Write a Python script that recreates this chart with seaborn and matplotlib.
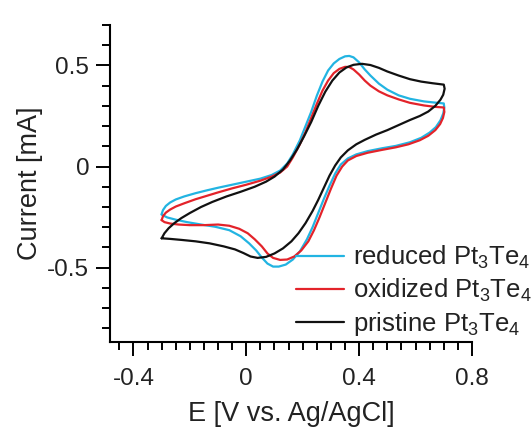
import matplotlib
matplotlib.use("Agg")
import matplotlib.pyplot as plt
import seaborn as sns
import pandas as pd
from matplotlib.ticker import MultipleLocator, FuncFormatter

# ---------------- data ----------------
series_names = ["reduced Pt$_3$Te$_4$", "oxidized Pt$_3$Te$_4$", "pristine Pt$_3$Te$_4$"]
series_colors = ["#22b4e2", "#e3232a", "#111111"]

# each loop: forward (anodic) sweep -0.3 -> 0.7 V, then reverse sweep back to -0.3 V
reduced_E = [-0.30, -0.295, -0.285, -0.27, -0.25, -0.22, -0.18, -0.14, -0.10, -0.05, 0.00, 0.05,
             0.09, 0.12, 0.145, 0.165, 0.19, 0.21, 0.23, 0.25, 0.27, 0.29, 0.31, 0.33,
             0.35, 0.365, 0.38, 0.40, 0.42, 0.44, 0.47, 0.50, 0.54, 0.58, 0.63, 0.67, 0.70,
             0.702, 0.698, 0.688, 0.672, 0.65, 0.62, 0.58, 0.53, 0.48, 0.43, 0.39, 0.36,
             0.335, 0.315, 0.295, 0.275, 0.255, 0.235, 0.215, 0.19, 0.165, 0.14, 0.115, 0.095,
             0.075, 0.055, 0.035, 0.01, -0.02, -0.06, -0.11, -0.16, -0.21, -0.25, -0.28, -0.30]
reduced_I = [-0.235, -0.215, -0.195, -0.178, -0.163, -0.148, -0.132, -0.118, -0.105, -0.09, -0.075, -0.06,
             -0.042, -0.02, 0.015, 0.06, 0.13, 0.20, 0.27, 0.35, 0.42, 0.475, 0.51, 0.532,
             0.545, 0.547, 0.54, 0.515, 0.48, 0.45, 0.41, 0.38, 0.352, 0.335, 0.322, 0.316, 0.312,
             0.29, 0.262, 0.228, 0.195, 0.168, 0.142, 0.12, 0.102, 0.09, 0.076, 0.06, 0.04,
             0.01, -0.035, -0.095, -0.16, -0.23, -0.30, -0.36, -0.42, -0.46, -0.485, -0.495, -0.495,
             -0.48, -0.45, -0.415, -0.38, -0.345, -0.315, -0.298, -0.287, -0.275, -0.263, -0.252, -0.238]

oxidized_E = [-0.30, -0.295, -0.285, -0.27, -0.25, -0.22, -0.18, -0.14, -0.10, -0.05, 0.00, 0.05,
              0.09, 0.12, 0.145, 0.165, 0.19, 0.21, 0.23, 0.25, 0.27, 0.29, 0.31, 0.33,
              0.35, 0.365, 0.38, 0.40, 0.42, 0.44, 0.47, 0.50, 0.54, 0.58, 0.63, 0.67, 0.70,
              0.702, 0.697, 0.687, 0.67, 0.645, 0.615, 0.575, 0.53, 0.48, 0.43, 0.39, 0.36,
              0.34, 0.32, 0.30, 0.28, 0.26, 0.24, 0.22, 0.195, 0.17, 0.145, 0.12, 0.095,
              0.075, 0.055, 0.03, 0.005, -0.025, -0.06, -0.10, -0.15, -0.20, -0.24, -0.27, -0.29, -0.30]
oxidized_I = [-0.265, -0.245, -0.228, -0.213, -0.198, -0.182, -0.162, -0.145, -0.128, -0.108, -0.09, -0.07,
              -0.05, -0.03, 0.0, 0.045, 0.11, 0.17, 0.24, 0.31, 0.375, 0.425, 0.462, 0.483,
              0.493, 0.492, 0.48, 0.455, 0.425, 0.40, 0.372, 0.352, 0.332, 0.315, 0.302, 0.295, 0.292,
              0.27, 0.24, 0.21, 0.18, 0.152, 0.13, 0.11, 0.095, 0.082, 0.068, 0.052, 0.03,
              0.0, -0.045, -0.11, -0.18, -0.25, -0.315, -0.37, -0.415, -0.445, -0.46, -0.462, -0.452,
              -0.43, -0.395, -0.36, -0.33, -0.308, -0.293, -0.287, -0.29, -0.29, -0.287, -0.282, -0.275, -0.265]

pristine_E = [-0.30, -0.29, -0.275, -0.255, -0.23, -0.20, -0.16, -0.12, -0.07, -0.02, 0.03, 0.07,
              0.10, 0.13, 0.155, 0.18, 0.205, 0.23, 0.255, 0.28, 0.305, 0.33, 0.355, 0.38,
              0.41, 0.44, 0.47, 0.50, 0.54, 0.58, 0.62, 0.66, 0.70,
              0.703, 0.698, 0.688, 0.67, 0.645, 0.615, 0.58, 0.54, 0.50, 0.46, 0.42, 0.39,
              0.36, 0.335, 0.315, 0.295, 0.275, 0.255, 0.235, 0.21, 0.185, 0.16, 0.13, 0.10,
              0.07, 0.04, 0.015, -0.01, -0.04, -0.08, -0.13, -0.18, -0.23, -0.27, -0.30]
pristine_I = [-0.355, -0.33, -0.305, -0.28, -0.255, -0.23, -0.20, -0.175, -0.148, -0.125, -0.10, -0.075,
              -0.05, -0.015, 0.03, 0.085, 0.15, 0.22, 0.30, 0.37, 0.425, 0.465, 0.49, 0.503,
              0.508, 0.502, 0.488, 0.47, 0.45, 0.432, 0.42, 0.412, 0.405,
              0.385, 0.355, 0.33, 0.30, 0.272, 0.25, 0.23, 0.205, 0.18, 0.158, 0.132, 0.11,
              0.08, 0.045, 0.005, -0.045, -0.105, -0.165, -0.22, -0.28, -0.33, -0.37, -0.405, -0.43,
              -0.447, -0.452, -0.445, -0.428, -0.41, -0.395, -0.38, -0.37, -0.363, -0.358, -0.355]

x_label = "E [V vs. Ag/AgCl]"
y_label = "Current [mA]"

# ---------------- build table ----------------
frames = []
for name, E, I in zip(series_names, [reduced_E, oxidized_E, pristine_E],
                      [reduced_I, oxidized_I, pristine_I]):
    frames.append(pd.DataFrame({"E": E, "I": I, "sample": name}))
df = pd.concat(frames, ignore_index=True)

# ---------------- style ----------------
sns.set_theme(style="ticks")
plt.rcParams["font.family"] = ["Liberation Sans", "DejaVu Sans"]
plt.rcParams["axes.unicode_minus"] = False
plt.rcParams["mathtext.fontset"] = "custom"
plt.rcParams["mathtext.rm"] = "Liberation Sans"
plt.rcParams["mathtext.it"] = "Liberation Sans:italic"
plt.rcParams["mathtext.default"] = "regular"

fig = plt.figure(figsize=(5.32, 4.30), dpi=100)
ax = fig.add_axes([110 / 532, 1 - 342 / 430, (472 - 110) / 532, (342 - 25) / 430])

sns.lineplot(data=df, x="E", y="I", hue="sample", hue_order=series_names,
             palette=series_colors, sort=False, estimator=None, linewidth=1.6, ax=ax)
for ln in ax.get_lines():
    ln.set_solid_joinstyle("round")

ax.set_xlim(-0.483, 0.8)
ax.set_ylim(-0.868, 0.7)

ax.xaxis.set_major_locator(MultipleLocator(0.4))
ax.xaxis.set_minor_locator(MultipleLocator(0.05))
ax.yaxis.set_major_locator(MultipleLocator(0.5))
ax.yaxis.set_minor_locator(MultipleLocator(0.1))
fmt = FuncFormatter(lambda v, p: "%g" % round(v, 3))
ax.xaxis.set_major_formatter(fmt)
ax.yaxis.set_major_formatter(fmt)

for s in ["top", "right"]:
    ax.spines[s].set_visible(False)
for s in ["left", "bottom"]:
    ax.spines[s].set_linewidth(1.5)
    ax.spines[s].set_color("black")

ax.tick_params(which="major", direction="out", length=10, width=1.4, color="black",
               labelsize=17.5, labelcolor="#222222")
ax.tick_params(which="minor", direction="out", length=5.5, width=1.4, color="black")
ax.tick_params(axis="x", which="major", pad=9)
ax.tick_params(axis="y", which="major", pad=5)

ax.set_xlabel(x_label, fontsize=19.5, color="#222222", labelpad=7.5)
ax.set_ylabel(y_label, fontsize=19.5, color="#222222", labelpad=3)

handles, labels = ax.get_legend_handles_labels()
ax.legend(handles, labels, loc="upper left", bbox_to_anchor=(296 / 532, 1 - 244 / 430),
          bbox_transform=fig.transFigure, frameon=False, fontsize=18.5, handlelength=1.85,
          handletextpad=0.35, borderpad=0, borderaxespad=0, labelspacing=0.22,
          labelcolor="#222222")

fig.savefig("out.png", dpi=100)
